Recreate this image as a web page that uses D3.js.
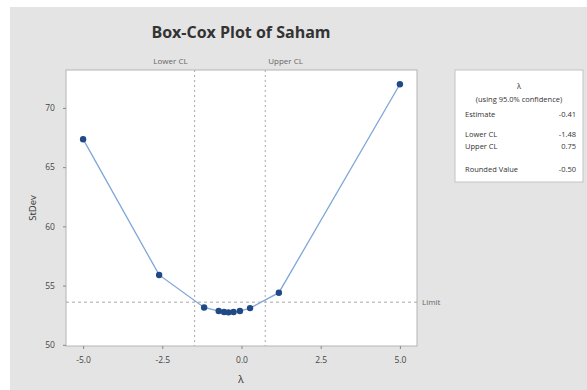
<!doctype html>
<html>
<head>
<style>
  body { margin: 0; background: #fff; }
  svg { display: block; font-family: "Open Sans", sans-serif; }
</style>
<script src="https://d3js.org/d3.v7.min.js"></script>
</head>
<body>
<svg width="587" height="390"></svg>
<script>
// values
var lambdas = [-5, -2.6, -1.18, -0.72, -0.55, -0.41, -0.25, -0.05, 0.27, 1.18, 5];
var stdevs  = [67.36, 55.9, 53.15, 52.85, 52.77, 52.74, 52.77, 52.85, 53.1, 54.4, 72.0];
var xTicks = [-5, -2.5, 0, 2.5, 5];
var yTicks = [50, 55, 60, 65, 70];
var lowerCL = -1.48, upperCL = 0.75, limitVal = 53.6;
var legendLabels = ["Estimate", "Lower CL", "Upper CL", "Rounded Value"];
var legendValues = ["-0.41", "-1.48", "0.75", "-0.50"];

var svg = d3.select("svg");

// outer gray panel
svg.append("rect").attr("x", 10).attr("y", 7).attr("width", 577).attr("height", 383)
    .attr("fill", "#e4e4e4");

var pLeft = 66, pRight = 417, pTop = 70, pBottom = 346;
var x = d3.scaleLinear().domain([-5.54, 5.54]).range([pLeft, pRight]);
var y = d3.scaleLinear().domain([49.9, 73.2]).range([pBottom, pTop]);

svg.append("rect").attr("x", pLeft).attr("y", pTop)
    .attr("width", pRight - pLeft).attr("height", pBottom - pTop)
    .attr("fill", "#fff").attr("stroke", "#b4b4b4").attr("stroke-width", 1);

// title
svg.append("text").attr("x", 241).attr("y", 38).attr("text-anchor", "middle")
    .attr("font-size", "16px").attr("font-weight", "bold").attr("fill", "#333")
    .text("Box-Cox Plot of Saham");

// axes
var fmt = function(d) { return d3.format(".1f")(d).replace("−", "-"); };
var xAxis = svg.append("g").attr("transform", "translate(0," + pBottom + ")")
    .call(d3.axisBottom(x).tickValues(xTicks).tickSize(3).tickFormat(fmt));
var yAxis = svg.append("g").attr("transform", "translate(" + pLeft + ",0)")
    .call(d3.axisLeft(y).tickValues(yTicks).tickSize(3));
[xAxis, yAxis].forEach(function(a) {
  a.select(".domain").remove();
  a.selectAll("line").attr("stroke", "#888");
  a.selectAll("text").attr("fill", "#444").style("font-size", "8.5px").style("font-family", "Open Sans");
});
xAxis.selectAll("text").attr("dy", "1.3em");
yAxis.selectAll("text").attr("dx", "-0.6em");

svg.append("text").attr("x", 241).attr("y", 383).attr("text-anchor", "middle")
    .attr("font-size", "10px").attr("fill", "#333").text("λ");
svg.append("text").attr("transform", "translate(36," + ((pTop + pBottom) / 2) + ") rotate(-90)")
    .attr("text-anchor", "middle").attr("font-size", "9.5px").attr("fill", "#333").text("StDev");

// confidence limit lines
[lowerCL, upperCL].forEach(function(v) {
  svg.append("line").attr("x1", x(v)).attr("x2", x(v)).attr("y1", pTop).attr("y2", pBottom)
      .attr("stroke", "#a8a8a8").attr("stroke-dasharray", "2,3");
});
svg.append("text").attr("x", x(lowerCL) - 7).attr("y", 64).attr("text-anchor", "end")
    .attr("font-size", "8px").attr("fill", "#666").text("Lower CL");
svg.append("text").attr("x", x(upperCL) + 3).attr("y", 64)
    .attr("font-size", "8px").attr("fill", "#666").text("Upper CL");

svg.append("line").attr("x1", pLeft).attr("x2", pRight).attr("y1", y(limitVal)).attr("y2", y(limitVal))
    .attr("stroke", "#a8a8a8").attr("stroke-dasharray", "3,3");
svg.append("text").attr("x", pRight + 5).attr("y", y(limitVal) + 3)
    .attr("font-size", "8px").attr("fill", "#666").text("Limit");

// line and points
var pts = lambdas.map(function(l, i) { return [l, stdevs[i]]; });
svg.append("path").datum(pts)
    .attr("fill", "none").attr("stroke", "#7fa6d8").attr("stroke-width", 1.3)
    .attr("d", d3.line().x(function(d) { return x(d[0]); }).y(function(d) { return y(d[1]); }));
svg.selectAll(".pt").data(pts).enter().append("circle")
    .attr("class", "pt")
    .attr("cx", function(d) { return x(d[0]); })
    .attr("cy", function(d) { return y(d[1]); })
    .attr("r", 3.2).attr("fill", "#1f4a86");

// legend box
var lg = svg.append("g").attr("transform", "translate(455,70)");
lg.append("rect").attr("width", 128).attr("height", 112)
    .attr("fill", "#fff").attr("stroke", "#c4c4c4");
lg.append("text").attr("x", 64).attr("y", 19).attr("text-anchor", "middle")
    .attr("font-size", "7.5px").attr("fill", "#333").text("λ");
lg.append("text").attr("x", 64).attr("y", 32).attr("text-anchor", "middle")
    .attr("font-size", "7.5px").attr("fill", "#333").text("(using 95.0% confidence)");
var rowY = [47, 67, 79, 102];
legendLabels.forEach(function(t, i) {
  lg.append("text").attr("x", 10).attr("y", rowY[i])
      .attr("font-size", "7.5px").attr("fill", "#333").text(t);
  lg.append("text").attr("x", 121).attr("y", rowY[i]).attr("text-anchor", "end")
      .attr("font-size", "7.5px").attr("fill", "#333").text(legendValues[i]);
});
</script>
</body>
</html>
